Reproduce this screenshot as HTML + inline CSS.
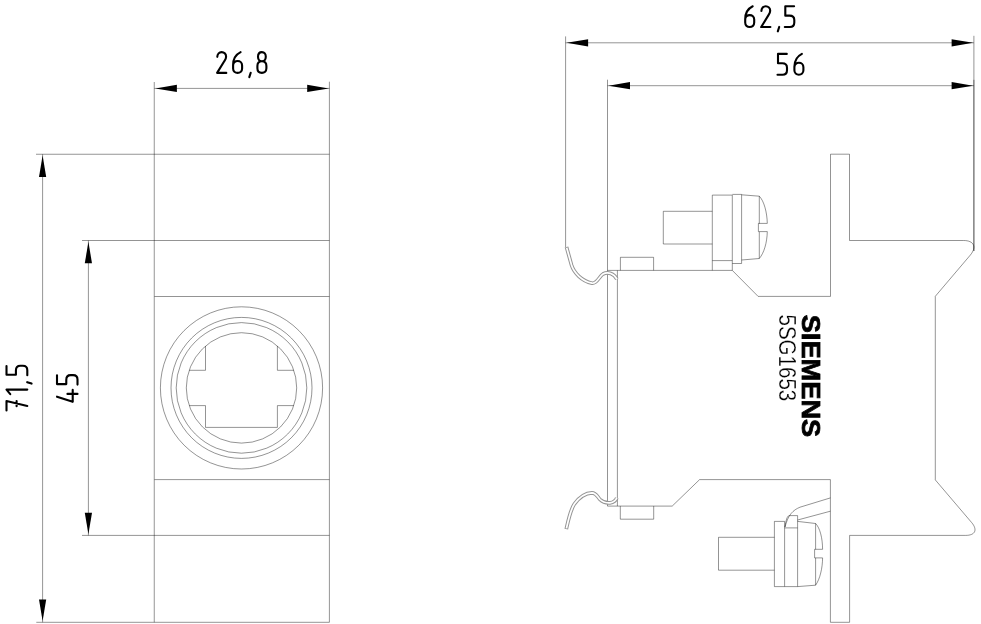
<!DOCTYPE html><html><head><meta charset="utf-8"><style>html,body{margin:0;padding:0;background:#fff;}svg{display:block;will-change:transform;font-family:"Liberation Sans",sans-serif;}</style></head><body><svg width="981" height="624" viewBox="0 0 981 624"><rect width="981" height="624" fill="#fff"/><g fill="none" stroke="#000" stroke-opacity="0.42" stroke-width="1.0"><line x1="154.25" y1="82" x2="154.25" y2="622.3"/><line x1="329.4" y1="81.7" x2="329.4" y2="622.3"/><line x1="154.4" y1="88.4" x2="329.4" y2="88.4"/><line x1="36" y1="154.25" x2="329.4" y2="154.25"/><line x1="82" y1="240.5" x2="329.4" y2="240.5"/><line x1="154.4" y1="296.5" x2="329.4" y2="296.5"/><line x1="154.4" y1="479.6" x2="329.4" y2="479.6"/><line x1="82" y1="535.4" x2="329.4" y2="535.4"/><line x1="36.3" y1="622.3" x2="329.4" y2="622.3"/><line x1="42.6" y1="154.25" x2="42.6" y2="622.3"/><line x1="88.4" y1="240.5" x2="88.4" y2="535.4"/><circle cx="241.5" cy="387.9" r="81.1"/><circle cx="241.5" cy="387.9" r="70.5"/><circle cx="241.5" cy="387.9" r="65.3"/><circle cx="241.5" cy="387.9" r="55.2"/><path d="M205.5,346.05 L205.5,370.3 L189.18,370.3"/><path d="M189.21,405.6 L205.5,405.6 L205.5,427.4 L277.4,427.4 L277.4,405.6 L293.79,405.6"/><path d="M293.82,370.3 L277.4,370.3 L277.4,345.97"/><line x1="565.6" y1="42.8" x2="973.9" y2="42.8"/><line x1="565.6" y1="36.4" x2="565.6" y2="247.2"/><line x1="973.9" y1="35.8" x2="973.9" y2="251"/><line x1="973.9" y1="79.8" x2="973.9" y2="251"/><line x1="607.5" y1="85.7" x2="973.9" y2="85.7"/><line x1="607.5" y1="79.7" x2="607.5" y2="506.1"/><line x1="617.4" y1="270.4" x2="617.4" y2="506.1"/><path d="M607.5,270.4 L732.3,270.4 L758.1,296.4 L830.5,296.4 L830.5,154.2 L849.5,154.2 L849.5,240.5 L963.5,240.5 C974,240.5 977,247 970.3,255.1 L935.3,296.3 L935.3,479.9 L971.6,522.5 C978,530 975,535.4 965.7,535.4 L849.6,535.4 L849.6,622.3 L830.4,622.3 L830.4,479.6 L699.6,479.6 L672.2,506.1 L607.5,506.1"/><path d="M620.4,270.4 L620.4,257.3 L653.6,257.3 L653.6,270.4"/><path d="M620.3,506.1 L620.3,519.2 L653.7,519.2 L653.7,506.1"/><path d="M712.3,211.3 L663.3,211.3 L663.3,244 L712.3,244"/><path d="M712.3,270.4 L712.3,195.1 L732.3,195.1 L732.3,270.4 M712.3,260.6 L732.3,260.6"/><path d="M732.3,194.4 L741.6,194.4 L741.6,263.5 L732.3,263.5"/><path d="M741.6,194.8 L759.3,196.2 M741.6,260 L759.3,258.5 M759.3,196.2 L759.3,223.6 M759.3,231.8 L759.3,258.5"/><path d="M759.3,196.2 C764,201 767,212 767.3,223.4 L758.4,223.4 L758.4,231.6 L767.3,231.6 C767,243 764,253 759.3,258.5"/><path d="M774.4,537.3 L718.5,537.3 L718.5,570.2 L774.4,570.2"/><path d="M774.4,521.4 L784.6,521.4 L784.6,586.6 L774.4,586.6 Z"/><path d="M784.6,527.9 L797.6,527.9 L797.6,586.6 L784.6,586.6"/><path d="M785,527 C786,520 787,516.5 789,515.6 L797.6,515.6 L797.6,527.9"/><path d="M797.6,521.4 L815.6,523.5 M797.6,586.6 L815.6,585.2 M815.6,523.5 L815.6,549.3 M815.6,557.9 L815.6,585.2"/><path d="M815.6,523.5 C820,528 822.5,538 822.6,549.3 L814.6,549.3 L814.6,557.9 L822.6,557.9 C822.5,568 820,579 815.6,585.2"/><path d="M785,527 C788,515 793,510 800,507.2 L830.4,497.9"/><path d="M797.6,520 L830.4,511.2"/></g><g fill="none" stroke-linecap="butt"><path d="M566.5,247 L571.5,265 C574,273 582,281 592,283.2 C597,284 599.5,276 603,274 C608,271.5 614,273.5 616.9,279.2" stroke="#959595" stroke-width="3.7"/><path d="M566.5,247 L571.5,265 C574,273 582,281 592,283.2 C597,284 599.5,276 603,274 C608,271.5 614,273.5 616.9,279.2" stroke="#fff" stroke-width="1.7" stroke-dasharray="0 0.7 77.9 1000"/><path d="M566.3,529.1 C568.3,520 570.3,510 574.5,503.8 C579.5,497 586,493 592,492.8 C596,492.8 597,496 600,499.5 C603,502.5 607,503 610,502.8 C613.5,502.4 616,500 616.8,497.8" stroke="#959595" stroke-width="3.7"/><path d="M566.3,529.1 C568.3,520 570.3,510 574.5,503.8 C579.5,497 586,493 592,492.8 C596,492.8 597,496 600,499.5 C603,502.5 607,503 610,502.8 C613.5,502.4 616,500 616.8,497.8" stroke="#fff" stroke-width="1.7" stroke-dasharray="0 0.7 78.4 1000"/></g><path d="M155.40,88.40 L176.90,84.80 L176.90,92.00 Z" fill="#000"/><path d="M328.70,88.40 L307.20,92.00 L307.20,84.80 Z" fill="#000"/><path d="M42.60,155.60 L46.20,177.10 L39.00,177.10 Z" fill="#000"/><path d="M42.60,621.10 L39.00,599.60 L46.20,599.60 Z" fill="#000"/><path d="M88.40,241.80 L92.00,263.30 L84.80,263.30 Z" fill="#000"/><path d="M88.40,534.30 L84.80,512.80 L92.00,512.80 Z" fill="#000"/><path d="M566.60,42.80 L588.10,39.20 L588.10,46.40 Z" fill="#000"/><path d="M973.10,42.80 L951.60,46.40 L951.60,39.20 Z" fill="#000"/><path d="M608.50,85.70 L630.00,82.10 L630.00,89.30 Z" fill="#000"/><path d="M973.10,85.70 L951.60,89.30 L951.60,82.10 Z" fill="#000"/><g transform="translate(217.1,52.1)" fill="none" stroke="#000" stroke-width="2.1" stroke-linecap="round" stroke-linejoin="round"><path transform="translate(0.00,0) scale(1,0.9905)" d="M0.2,4.8 C0.2,1.8 2.2,0 4.5,0 C7,0 9,1.8 9,4.6 C9,6.3 8.3,7.6 7.3,9 L0,21 L9.2,21" vector-effect="non-scaling-stroke"/><path transform="translate(16.00,0) scale(1,0.9905)" d="M7.5,0 C3,2.3 0,6.5 0,13 L0,16.5 C0,19.3 2,21 4.5,21 C7,21 9,19.3 9,16.5 L9,13.5 C9,10.7 7,9 4.5,9 C2,9 0,10.7 0,13.5" vector-effect="non-scaling-stroke"/><path transform="translate(31.30,0) scale(1,0.9905)" d="M2.3,20.9 L0.9,25.3" vector-effect="non-scaling-stroke"/><path transform="translate(40.30,0) scale(1,0.9905)" d="M4.5,0 C2,0 0.6,1.8 0.6,4.6 C0.6,7.4 2.2,9.2 4.5,9.2 C6.8,9.2 8.4,7.4 8.4,4.6 C8.4,1.8 7,0 4.5,0 Z M4.5,9.2 C1.8,9.2 0,11 0,14 L0,16.4 C0,19.3 2,21 4.5,21 C7,21 9,19.3 9,16.4 L9,14 C9,11 7.2,9.2 4.5,9.2 Z" vector-effect="non-scaling-stroke"/></g><g transform="translate(6.5,410.5) rotate(-90)" fill="none" stroke="#000" stroke-width="2.1" stroke-linecap="round" stroke-linejoin="round"><path transform="translate(0.00,0) scale(1,0.9905)" d="M0,0 L9.5,0 L4.5,21 M4.3,10.2 L9.5,10.2" vector-effect="non-scaling-stroke"/><path transform="translate(16.00,0) scale(1,0.9905)" d="M0.4,3.8 L4.9,0 L4.9,21" vector-effect="non-scaling-stroke"/><path transform="translate(26.00,0) scale(1,0.9905)" d="M2.3,20.9 L0.9,25.3" vector-effect="non-scaling-stroke"/><path transform="translate(35.70,0) scale(1,0.9905)" d="M8.8,0 L0,0 L0,9.5 L4.2,9.5 C7.2,9.5 9,11.3 9,14 L9,16.5 C9,19.3 7.3,21 4.5,21 L-0.5,21" vector-effect="non-scaling-stroke"/></g><g transform="translate(57.0,401.8) rotate(-90)" fill="none" stroke="#000" stroke-width="2.1" stroke-linecap="round" stroke-linejoin="round"><path transform="translate(0.00,0) scale(1,0.9762)" d="M5.1,0 L0,16.1 L11.9,16.1 M7.9,10.7 L7.9,21" vector-effect="non-scaling-stroke"/><path transform="translate(17.70,0) scale(1,0.9762)" d="M8.8,0 L0,0 L0,9.5 L4.2,9.5 C7.2,9.5 9,11.3 9,14 L9,16.5 C9,19.3 7.3,21 4.5,21 L-0.5,21" vector-effect="non-scaling-stroke"/></g><g transform="translate(745.2,6.25)" fill="none" stroke="#000" stroke-width="2.1" stroke-linecap="round" stroke-linejoin="round"><path transform="translate(0.00,0) scale(1,0.9905)" d="M7.5,0 C3,2.3 0,6.5 0,13 L0,16.5 C0,19.3 2,21 4.5,21 C7,21 9,19.3 9,16.5 L9,13.5 C9,10.7 7,9 4.5,9 C2,9 0,10.7 0,13.5" vector-effect="non-scaling-stroke"/><path transform="translate(16.00,0) scale(1,0.9905)" d="M0.2,4.8 C0.2,1.8 2.2,0 4.5,0 C7,0 9,1.8 9,4.6 C9,6.3 8.3,7.6 7.3,9 L0,21 L9.2,21" vector-effect="non-scaling-stroke"/><path transform="translate(31.70,0) scale(1,0.9905)" d="M2.3,20.9 L0.9,25.3" vector-effect="non-scaling-stroke"/><path transform="translate(40.10,0) scale(1,0.9905)" d="M8.8,0 L0,0 L0,9.5 L4.2,9.5 C7.2,9.5 9,11.3 9,14 L9,16.5 C9,19.3 7.3,21 4.5,21 L-0.5,21" vector-effect="non-scaling-stroke"/></g><g transform="translate(778.0,53.9)" fill="none" stroke="#000" stroke-width="2.1" stroke-linecap="round" stroke-linejoin="round"><path transform="translate(0.00,0) scale(1,0.9905)" d="M8.8,0 L0,0 L0,9.5 L4.2,9.5 C7.2,9.5 9,11.3 9,14 L9,16.5 C9,19.3 7.3,21 4.5,21 L-0.5,21" vector-effect="non-scaling-stroke"/><path transform="translate(16.40,0) scale(1,0.9905)" d="M7.5,0 C3,2.3 0,6.5 0,13 L0,16.5 C0,19.3 2,21 4.5,21 C7,21 9,19.3 9,16.5 L9,13.5 C9,10.7 7,9 4.5,9 C2,9 0,10.7 0,13.5" vector-effect="non-scaling-stroke"/></g><g transform="translate(826.2,314.7) rotate(90)"><text x="0" y="0" font-family="Liberation Sans, sans-serif" font-weight="bold" font-size="26.3" fill="#000" stroke="#000" stroke-width="0.8" textLength="122.5" lengthAdjust="spacingAndGlyphs" dominant-baseline="text-before-edge">SIEMENS</text></g><g transform="translate(800.5,314.5) rotate(90) scale(0.845,1)"><text x="0" y="0" font-family="Liberation Sans, sans-serif" font-size="24.3" fill="#000" stroke="#fff" stroke-width="0.25" dominant-baseline="text-before-edge">5SG1653</text></g></svg></body></html>
